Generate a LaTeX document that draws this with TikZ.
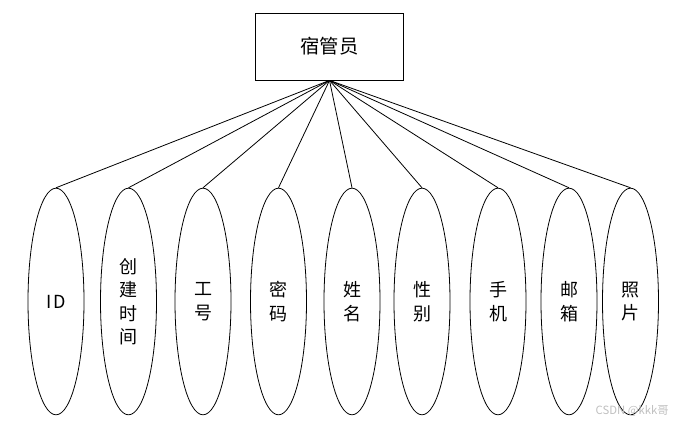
\documentclass[tikz,border=0pt]{standalone}
\usepackage{fontspec}
\setmainfont{Noto Sans CJK SC}
\usetikzlibrary{shapes.geometric}
\begin{document}
\begin{tikzpicture}[x=0.75pt,y=-0.75pt,
  ent/.style={draw,line width=0.6pt,minimum width=111pt,minimum height=50.25pt,inner sep=0pt,font=\fontsize{14.5}{17}\selectfont},
  attr/.style={draw,ellipse,line width=0.6pt,minimum width=42pt,minimum height=170pt,inner sep=0pt,align=center,font=\fontsize{13.5}{17.6}\selectfont},
  link/.style={line width=0.6pt}]
\useasboundingbox (0,0) rectangle (679,423);
\node[ent] (e) at (329.5,46.5) {宿管员};
\node[attr] (a1) at (56,301.5) {I\kern1.5pt D};
\node[attr] (a2) at (128.5,301.5) {创\\建\\时\\间};
\node[attr] (a3) at (203,301.5) {工\\号};
\node[attr] (a4) at (278.5,301.5) {密\\码};
\node[attr] (a5) at (352,301.5) {姓\\名};
\node[attr] (a6) at (422,301.5) {性\\别};
\node[attr] (a7) at (498,301.5) {手\\机};
\node[attr] (a8) at (569,301.5) {邮\\箱};
\node[attr] (a9) at (630.5,301.5) {照\\片};
\foreach \i in {1,...,9} \draw[link] (e.south) -- (a\i.north);
\node[text=black!25,font=\fontsize{8.5}{10}\selectfont,anchor=south east,inner sep=0pt] (wm) at (669,417) {CSDN @kkk哥};
\end{tikzpicture}
\end{document}
